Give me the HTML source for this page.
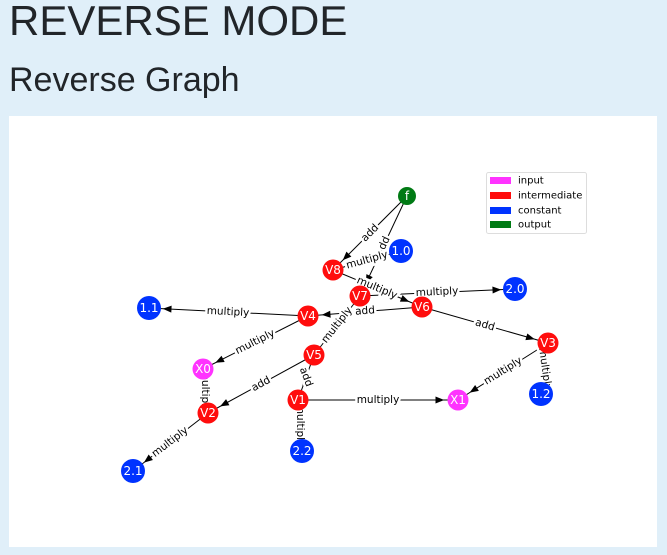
<!DOCTYPE html>
<html><head><meta charset="utf-8"><style>
body{margin:0;width:667px;height:555px;background:#e0eff9;font-family:"Liberation Sans",sans-serif;overflow:hidden;position:relative}
h1{position:absolute;left:9px;top:-3px;margin:0;font-weight:normal;font-size:42px;color:#212529}
h2{position:absolute;left:9px;top:61px;margin:0;font-weight:normal;font-size:34px;color:#212529}
.panel{position:absolute;left:9px;top:116px;width:648px;height:431px;background:#fff}
svg{position:absolute;left:0;top:0}
.l{stroke:#000;stroke-width:1}
.t{font-family:"DejaVu Sans",sans-serif;font-size:10.5px;fill:#000;text-anchor:middle;dominant-baseline:central;paint-order:stroke;stroke:#fff;stroke-width:5px}
.n{font-family:"DejaVu Sans",sans-serif;font-size:12px;fill:#fff;text-anchor:middle;dominant-baseline:central}
.lg{font-family:"DejaVu Sans",sans-serif;font-size:10px;fill:#000;dominant-baseline:central}
</style></head><body>
<h1>REVERSE MODE</h1>
<h2>Reverse Graph</h2>
<div class="panel"></div>
<svg width="667" height="555">
<defs><marker id="a" markerUnits="userSpaceOnUse" markerWidth="30" markerHeight="30" refX="11" refY="0" viewBox="-12 -5 24 10" orient="auto" overflow="visible"><path d="M-7,-2.8 L0,0 L-7,2.8 z" fill="#000"/></marker></defs>
<g class="l" marker-end="url(#a)">
<line x1="407" y1="196" x2="333" y2="270"/>
<line x1="407" y1="196" x2="360" y2="296"/>
<line x1="333" y1="270" x2="401" y2="251"/>
<line x1="333" y1="270" x2="422" y2="307"/>
<line x1="360" y1="296" x2="515" y2="289"/>
<line x1="422" y1="307" x2="308" y2="316"/>
<line x1="360" y1="296" x2="314" y2="355"/>
<line x1="422" y1="307" x2="548" y2="343"/>
<line x1="308" y1="316" x2="149" y2="308"/>
<line x1="308" y1="316" x2="203" y2="369"/>
<line x1="314" y1="355" x2="208" y2="413"/>
<line x1="314" y1="355" x2="298" y2="400"/>
<line x1="208" y1="413" x2="203" y2="369"/>
<line x1="208" y1="413" x2="133" y2="471"/>
<line x1="298" y1="400" x2="458" y2="400"/>
<line x1="298" y1="400" x2="302" y2="451"/>
<line x1="548" y1="343" x2="458" y2="400"/>
<line x1="548" y1="343" x2="541" y2="394"/>
</g>
<g>
<text class="t" transform="translate(370,233) rotate(-45)">add</text>
<text class="t" transform="translate(383,246) rotate(-65)">add</text>
<text class="t" transform="translate(367,260) rotate(-15.6)">multiply</text>
<text class="t" transform="translate(377,288) rotate(22.6)">multiply</text>
<text class="t" transform="translate(437,292) rotate(-2.6)">multiply</text>
<text class="t" transform="translate(365,311) rotate(-4.5)">add</text>
<text class="t" transform="translate(337,325) rotate(-52)">multiply</text>
<text class="t" transform="translate(485,325) rotate(16)">add</text>
<text class="t" transform="translate(228,312) rotate(2.9)">multiply</text>
<text class="t" transform="translate(255,342) rotate(-26.8)">multiply</text>
<text class="t" transform="translate(261,384) rotate(-28.7)">add</text>
<text class="t" transform="translate(306,377) rotate(70)">add</text>
<text class="t" transform="translate(205,391) rotate(90)">multiply</text>
<text class="t" transform="translate(170,442) rotate(-37.7)">multiply</text>
<text class="t" transform="translate(378,400)">multiply</text>
<text class="t" transform="translate(300,425) rotate(90)">multiply</text>
<text class="t" transform="translate(503,371) rotate(-32)">multiply</text>
<text class="t" transform="translate(545,369) rotate(82)">multiply</text>
</g>
<g>
<circle cx="407" cy="196" r="9" fill="#007a14"/><text class="n" x="407" y="196">f</text>
<circle cx="401" cy="251" r="12" fill="#0033ff"/><text class="n" x="401" y="251">1.0</text>
<circle cx="333" cy="270" r="10.5" fill="#ff0d0d"/><text class="n" x="333" y="270">V8</text>
<circle cx="360" cy="296" r="10.5" fill="#ff0d0d"/><text class="n" x="360" y="296">V7</text>
<circle cx="422" cy="307" r="10.5" fill="#ff0d0d"/><text class="n" x="422" y="307">V6</text>
<circle cx="515" cy="289" r="12" fill="#0033ff"/><text class="n" x="515" y="289">2.0</text>
<circle cx="308" cy="316" r="10.5" fill="#ff0d0d"/><text class="n" x="308" y="316">V4</text>
<circle cx="149" cy="308" r="12" fill="#0033ff"/><text class="n" x="149" y="308">1.1</text>
<circle cx="203" cy="369" r="10.5" fill="#ff33ff"/><text class="n" x="203" y="369">X0</text>
<circle cx="314" cy="355" r="10.5" fill="#ff0d0d"/><text class="n" x="314" y="355">V5</text>
<circle cx="548" cy="343" r="10.5" fill="#ff0d0d"/><text class="n" x="548" y="343">V3</text>
<circle cx="298" cy="400" r="10.5" fill="#ff0d0d"/><text class="n" x="298" y="400">V1</text>
<circle cx="458" cy="400" r="10.5" fill="#ff33ff"/><text class="n" x="458" y="400">X1</text>
<circle cx="541" cy="394" r="12" fill="#0033ff"/><text class="n" x="541" y="394">1.2</text>
<circle cx="208" cy="413" r="10.5" fill="#ff0d0d"/><text class="n" x="208" y="413">V2</text>
<circle cx="302" cy="451" r="12" fill="#0033ff"/><text class="n" x="302" y="451">2.2</text>
<circle cx="133" cy="471" r="12" fill="#0033ff"/><text class="n" x="133" y="471">2.1</text>
</g>
<g>
<rect x="486.5" y="172.5" width="100" height="61" rx="2" fill="#fff" stroke="#ddd"/>
<rect x="490" y="177" width="21" height="7" fill="#ff33ff"/><text class="lg" x="518" y="181">input</text>
<rect x="490" y="192" width="21" height="7" fill="#ff0d0d"/><text class="lg" x="518" y="196">intermediate</text>
<rect x="490" y="207" width="21" height="7" fill="#0033ff"/><text class="lg" x="518" y="211">constant</text>
<rect x="490" y="221" width="21" height="7" fill="#007a14"/><text class="lg" x="518" y="225">output</text>
</g>
</svg>
</body></html>
